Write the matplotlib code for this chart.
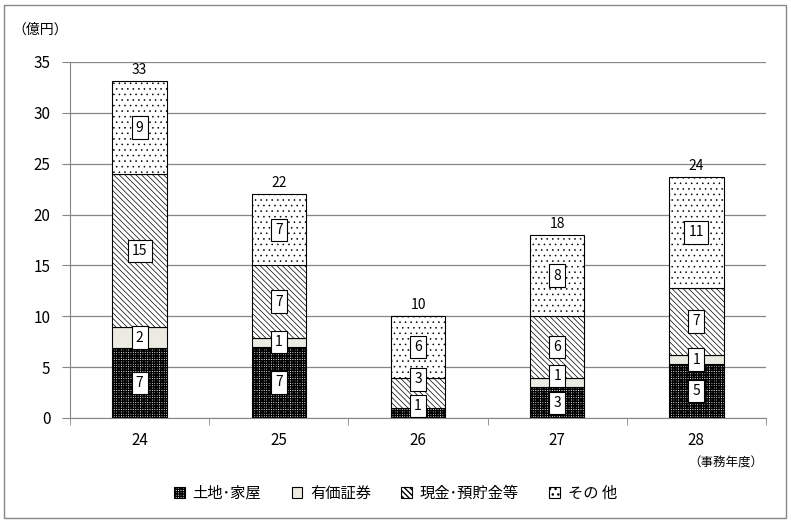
import matplotlib
matplotlib.use('Agg')
import matplotlib.pyplot as plt
import numpy as np
from matplotlib.patches import Rectangle, Patch

plt.rcParams['font.family'] = ['Noto Sans CJK JP', 'DejaVu Sans']

years = ['24', '25', '26', '27', '28']
series_names = ['土地･家屋', '有価証券', '現金･預貯金等', 'その 他']
# segment heights (億円)
land = [6.9, 7.0, 1.0, 3.0, 5.3]
securities = [2.0, 0.9, 0.0, 0.9, 0.9]
cash = [15.1, 7.1, 2.9, 6.1, 6.6]
other = [9.1, 7.0, 6.1, 8.0, 10.9]
# labels printed in the boxes and on top of the bars
land_lbl = ['7', '7', '1', '3', '5']
sec_lbl = ['2', '1', '', '1', '1']
cash_lbl = ['15', '7', '3', '6', '7']
other_lbl = ['9', '7', '6', '8', '11']
total_lbl = ['33', '22', '10', '18', '24']

fig = plt.figure(figsize=(7.91, 5.25), dpi=100)
ax = fig.add_axes([70 / 791, 1 - 418 / 525, 696 / 791, 356 / 525])

x = np.arange(len(years))
width = 0.39
values = [land, securities, cash, other]
labels = [land_lbl, sec_lbl, cash_lbl, other_lbl]
styles = [
    dict(facecolor='white', hatch='+++++++', hlw=1.0),
    dict(facecolor='#ECEBE1', hatch=None, hlw=0.5),
    dict(facecolor='white', hatch='\\\\\\\\\\\\', hlw=0.5),
    dict(facecolor='white', hatch='...', hlw=0.4),
]

bottom = np.zeros(len(years))
mids = []
for vals, st in zip(values, styles):
    vals = np.array(vals)
    with plt.rc_context({'hatch.linewidth': st['hlw']}):
        ax.bar(x, vals, width, bottom=bottom, facecolor=st['facecolor'],
               edgecolor='black', hatch=st['hatch'], linewidth=0.8, zorder=3)
    mids.append(bottom + vals / 2)
    bottom = bottom + vals

# place value boxes, pushing up ones that would overlap
box = dict(boxstyle='square,pad=0.3', fc='white', ec='black', lw=0.8)
for i in range(len(years)):
    last = -10
    for k in range(4):
        if not labels[k][i]:
            continue
        y = max(mids[k][i], 1.2, last + 2.6)
        last = y
        ax.text(x[i], y, labels[k][i], ha='center', va='center',
                fontsize=10, bbox=box, zorder=5)
    ax.text(x[i], bottom[i] + 0.4, total_lbl[i], ha='center', va='bottom',
            fontsize=10, zorder=5)

ax.set_xlim(-0.5, len(years) - 0.5)
ax.set_ylim(0, 35)
ax.set_yticks(range(0, 36, 5))
ax.set_xticks(x)
ax.set_xticklabels(years)
ax.set_xticks(np.arange(-0.5, len(years)), minor=True)
ax.tick_params(axis='x', which='major', length=0, labelsize=11, pad=10)
ax.tick_params(axis='x', which='minor', length=5, color='#868686')
ax.tick_params(axis='y', length=6, color='#868686', labelsize=11, pad=8)
ax.grid(axis='y', color='#868686', linewidth=0.9, zorder=0)
for side in ['top', 'right']:
    ax.spines[side].set_visible(False)
for side in ['left', 'bottom']:
    ax.spines[side].set_color('#868686')

fig.text(12 / 791, 1 - 30 / 525, '（億円）', fontsize=10, va='center')
fig.text(688 / 791, 1 - 463 / 525, '（事務年度）', fontsize=9, va='center')

handles = []
for st in styles:
    with plt.rc_context({'hatch.linewidth': st['hlw']}):
        handles.append(Patch(facecolor=st['facecolor'], edgecolor='black',
                             hatch=st['hatch'], linewidth=0.8))
fig.legend(handles, series_names, loc='center', bbox_to_anchor=(0.5, 1 - 493 / 525),
           ncol=4, frameon=False, fontsize=11, handlelength=0.7, handleheight=0.7,
           handletextpad=0.5, columnspacing=2.0)

fig.patches.append(Rectangle((4 / 791, 1 - 518 / 525), 782 / 791, 513 / 525,
                             transform=fig.transFigure, fill=False,
                             edgecolor='#868686', linewidth=1))

fig.savefig('out.png', dpi=100)
